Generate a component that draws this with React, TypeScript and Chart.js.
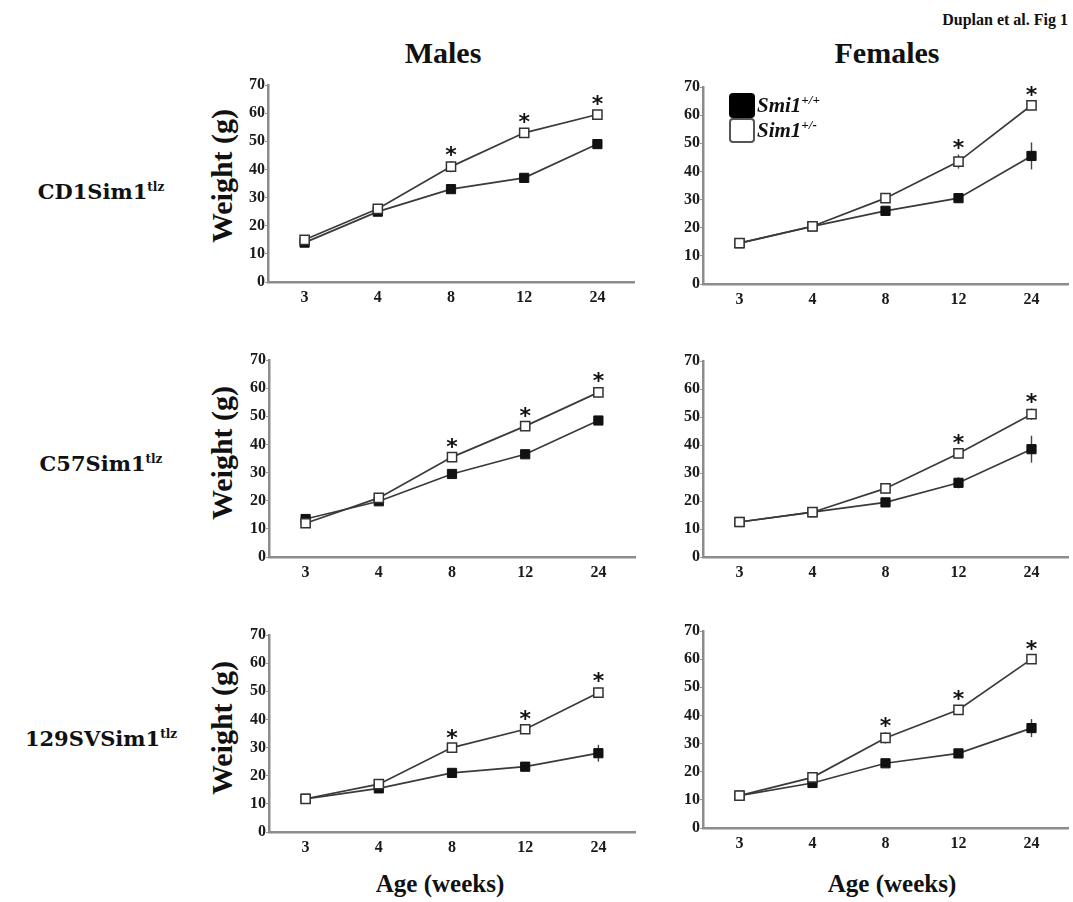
import React, { useEffect, useRef } from 'react';
import { Chart, registerables } from 'chart.js';

Chart.register(...registerables);

// ---------- data ----------
const weeks = ['3', '4', '8', '12', '24'];
const yMin = 0;
const yMax = 70;
const yStep = 10;

// Males CD1Sim1tlz
const maleCD1Wt = [14, 25, 33, 37, 49];
const maleCD1WtErr = [0.6, 0.6, 1, 1, 1.5];
const maleCD1Het = [15, 26, 41, 53, 59.5];
const maleCD1HetErr = [0.6, 0.8, 2, 1.5, 1.5];
const maleCD1Sig = [false, false, true, true, true];

// Females CD1Sim1tlz
const femaleCD1Wt = [14.5, 20.5, 26, 30.5, 45.5];
const femaleCD1WtErr = [0.5, 0.6, 1, 1.5, 4.8];
const femaleCD1Het = [14.5, 20.5, 30.5, 43.5, 63.5];
const femaleCD1HetErr = [0.5, 0.6, 1, 2.5, 1.5];
const femaleCD1Sig = [false, false, false, true, true];

// Males C57Sim1tlz
const maleC57Wt = [13.5, 19.8, 29.5, 36.5, 48.5];
const maleC57WtErr = [0.5, 0.6, 1, 1, 1];
const maleC57Het = [12, 21, 35.5, 46.5, 58.5];
const maleC57HetErr = [0.5, 0.6, 1.5, 1.5, 1.8];
const maleC57Sig = [false, false, true, true, true];

// Females C57Sim1tlz
const femaleC57Wt = [12.5, 16, 19.5, 26.5, 38.5];
const femaleC57WtErr = [0.5, 0.5, 1, 2, 4.8];
const femaleC57Het = [12.5, 16, 24.5, 37, 51];
const femaleC57HetErr = [0.5, 0.5, 1.8, 1.5, 2];
const femaleC57Sig = [false, false, false, true, true];

// Males 129SVSim1tlz
const male129Wt = [11.8, 15.5, 21, 23.2, 28];
const male129WtErr = [0.5, 0.5, 0.8, 1, 3];
const male129Het = [11.8, 17, 30, 36.5, 49.5];
const male129HetErr = [0.5, 0.6, 1.2, 1.5, 1.8];
const male129Sig = [false, false, true, true, true];

// Females 129SVSim1tlz
const female129Wt = [11.5, 16, 23, 26.5, 35.5];
const female129WtErr = [0.5, 0.5, 1, 1, 3.2];
const female129Het = [11.5, 18, 32, 42, 60];
const female129HetErr = [0.5, 0.6, 2, 1.5, 1.5];
const female129Sig = [false, false, true, true, true];

// ---------- layout constants ----------
const YW = 44; // y-axis width
const XH = 34; // x-axis height
const PT = 14; // top padding
const PR = 10; // right padding

const FONT = "'Liberation Serif', 'Times New Roman', serif";

type PanelProps = {
  left: number; // chart-area left in page px
  top: number;
  right: number;
  bottom: number;
  wt: number[];
  wtErr: number[];
  het: number[];
  hetErr: number[];
  sig: boolean[];
};

const errStarPlugin = {
  id: 'errStar',
  beforeDatasetsDraw(chart: any) {
    const ctx = chart.ctx;
    const y = chart.scales.y;
    const x = chart.scales.x;
    ctx.save();
    ctx.strokeStyle = '#444';
    ctx.lineWidth = 1.4;
    chart.data.datasets.forEach((ds: any) => {
      const errs: number[] = ds.errors || [];
      ds.data.forEach((v: number, i: number) => {
        const e = errs[i] || 0;
        if (!e) return;
        const px = x.getPixelForValue(i);
        ctx.beginPath();
        ctx.moveTo(px, y.getPixelForValue(v - e));
        ctx.lineTo(px, y.getPixelForValue(v + e));
        ctx.stroke();
      });
    });
    ctx.restore();
  },
  afterDatasetsDraw(chart: any) {
    const ctx = chart.ctx;
    const y = chart.scales.y;
    const x = chart.scales.x;
    ctx.save();
    ctx.fillStyle = '#111';
    ctx.font = `bold 22px 'DejaVu Sans', sans-serif`;
    ctx.textAlign = 'center';
    ctx.textBaseline = 'middle';
    chart.data.datasets.forEach((ds: any) => {
      const sig: boolean[] = ds.sig || [];
      ds.data.forEach((v: number, i: number) => {
        if (!sig[i]) return;
        const px = x.getPixelForValue(i);
        const py = y.getPixelForValue(v + (ds.errors?.[i] || 0));
        ctx.fillText('*', px, py - 5);
      });
    });
    ctx.restore();
  },
};

function Panel(p: PanelProps) {
  const ref = useRef<HTMLCanvasElement | null>(null);
  const cw = YW + (p.right - p.left) + PR;
  const ch = PT + (p.bottom - p.top) + XH;
  useEffect(() => {
    if (!ref.current) return;
    const tickFont = { family: FONT, size: 16, weight: 'bold' as const };
    const chart = new Chart(ref.current, {
      type: 'line',
      data: {
        labels: weeks,
        datasets: [
          {
            label: 'Smi1+/+',
            data: p.wt,
            errors: p.wtErr,
            borderColor: '#3a3a3a',
            borderWidth: 1.7,
            backgroundColor: '#111',
            pointStyle: 'rect',
            pointRadius: 6.5,
            pointBackgroundColor: '#111',
            pointBorderColor: '#111',
            pointBorderWidth: 1,
            tension: 0,
            order: 1,
          } as any,
          {
            label: 'Sim1+/-',
            data: p.het,
            errors: p.hetErr,
            sig: p.sig,
            borderColor: '#3a3a3a',
            borderWidth: 1.7,
            backgroundColor: '#fff',
            pointStyle: 'rect',
            pointRadius: 6.5,
            pointBackgroundColor: '#fff',
            pointBorderColor: '#333',
            pointBorderWidth: 1.5,
            tension: 0,
            order: 0,
          } as any,
        ],
      },
      options: {
        animation: false,
        responsive: false,
        maintainAspectRatio: false,
        layout: { padding: { top: PT, right: PR, left: 0, bottom: 0 } },
        plugins: { legend: { display: false }, tooltip: { enabled: false } },
        scales: {
          x: {
            type: 'category',
            offset: true,
            grid: { display: true, drawOnChartArea: false, drawTicks: false, color: '#888' },
            border: { display: true, color: '#8c8c8c', width: 2.5 },
            ticks: { font: tickFont, color: '#1a1a1a', padding: 6, maxRotation: 0 },
            afterFit: (s: any) => {
              s.height = XH;
            },
          },
          y: {
            min: yMin,
            max: yMax,
            grid: { display: true, drawOnChartArea: false, drawTicks: true, tickLength: 3, color: '#999' },
            border: { display: true, color: '#8c8c8c', width: 2.5 },
            ticks: { stepSize: yStep, font: tickFont, color: '#1a1a1a', padding: 0 },
            afterFit: (s: any) => {
              s.width = YW;
            },
          },
        },
      },
      plugins: [errStarPlugin],
    });
    return () => chart.destroy();
  }, []);
  return (
    <canvas
      ref={ref}
      width={cw}
      height={ch}
      style={{ position: 'absolute', left: p.left - YW, top: p.top - PT, width: cw, height: ch }}
    />
  );
}

const abs = (o: any): any => ({ position: 'absolute', whiteSpace: 'nowrap', ...o });

function RowLabel({ text, cy }: { text: string; cy: number }) {
  return (
    <div
      style={abs({
        left: 101,
        top: cy,
        transform: 'translate(-50%, -50%)',
        fontFamily: "'DejaVu Serif', serif",
        fontWeight: 'bold',
        fontSize: 21,
        color: '#111',
      })}
    >
      {text}
      <sup style={{ fontSize: 12, verticalAlign: 'super' }}>tlz</sup>
    </div>
  );
}

function WeightLabel({ cy }: { cy: number }) {
  return (
    <div
      style={abs({
        left: 222,
        top: cy,
        transform: 'translate(-50%, -50%) rotate(-90deg)',
        fontFamily: FONT,
        fontWeight: 'bold',
        fontSize: 30,
        color: '#111',
        lineHeight: 1,
      })}
    >
      Weight (g)
    </div>
  );
}

export default function App() {
  return (
    <div
      style={{
        position: 'absolute',
        left: 0,
        top: 0,
        width: 1073,
        height: 902,
        background: '#fff',
        overflow: 'hidden',
        fontFamily: FONT,
      }}
    >
      <div style={abs({ right: 5, top: 20, transform: 'translateY(-50%)', fontWeight: 'bold', fontSize: 16, color: '#111' })}>
        Duplan et al. Fig 1
      </div>
      <div style={abs({ left: 443, top: 53, transform: 'translate(-50%, -50%)', fontWeight: 'bold', fontSize: 30, color: '#111' })}>
        Males
      </div>
      <div style={abs({ left: 887, top: 53, transform: 'translate(-50%, -50%)', fontWeight: 'bold', fontSize: 30, color: '#111' })}>
        Females
      </div>

      <RowLabel text="CD1Sim1" cy={191} />
      <RowLabel text="C57Sim1" cy={463} />
      <RowLabel text="129SVSim1" cy={738} />

      <WeightLabel cy={176} />
      <WeightLabel cy={453} />
      <WeightLabel cy={728} />

      <Panel left={268} top={85} right={634} bottom={282} wt={maleCD1Wt} wtErr={maleCD1WtErr} het={maleCD1Het} hetErr={maleCD1HetErr} sig={maleCD1Sig} />
      <Panel left={703} top={87} right={1068} bottom={284} wt={femaleCD1Wt} wtErr={femaleCD1WtErr} het={femaleCD1Het} hetErr={femaleCD1HetErr} sig={femaleCD1Sig} />
      <Panel left={269} top={360} right={635} bottom={557} wt={maleC57Wt} wtErr={maleC57WtErr} het={maleC57Het} hetErr={maleC57HetErr} sig={maleC57Sig} />
      <Panel left={703} top={361} right={1068} bottom={557} wt={femaleC57Wt} wtErr={femaleC57WtErr} het={femaleC57Het} hetErr={femaleC57HetErr} sig={femaleC57Sig} />
      <Panel left={269} top={635} right={635} bottom={832} wt={male129Wt} wtErr={male129WtErr} het={male129Het} hetErr={male129HetErr} sig={male129Sig} />
      <Panel left={703} top={631} right={1068} bottom={828} wt={female129Wt} wtErr={female129WtErr} het={female129Het} hetErr={female129HetErr} sig={female129Sig} />

      {/* legend */}
      <div style={abs({ left: 729, top: 93, width: 26, height: 25, background: '#000', borderRadius: 4, boxSizing: 'border-box' })} />
      <div style={abs({ left: 729, top: 118, width: 26, height: 25, background: '#fff', border: '2px solid #555', borderRadius: 4, boxSizing: 'border-box' })} />
      <div style={abs({ left: 757, top: 105, transform: 'translateY(-50%)', fontWeight: 'bold', fontStyle: 'italic', fontSize: 21, color: '#111', lineHeight: 1 })}>
        Smi1<sup style={{ fontSize: 13, verticalAlign: 'super', lineHeight: 0 }}>+/+</sup>
      </div>
      <div style={abs({ left: 757, top: 130, transform: 'translateY(-50%)', fontWeight: 'bold', fontStyle: 'italic', fontSize: 21, color: '#111', lineHeight: 1 })}>
        Sim1<sup style={{ fontSize: 13, verticalAlign: 'super', lineHeight: 0 }}>+/-</sup>
      </div>

      <div style={abs({ left: 440, top: 884, transform: 'translate(-50%, -50%)', fontWeight: 'bold', fontSize: 25, color: '#111' })}>
        Age (weeks)
      </div>
      <div style={abs({ left: 892, top: 884, transform: 'translate(-50%, -50%)', fontWeight: 'bold', fontSize: 25, color: '#111' })}>
        Age (weeks)
      </div>
    </div>
  );
}
